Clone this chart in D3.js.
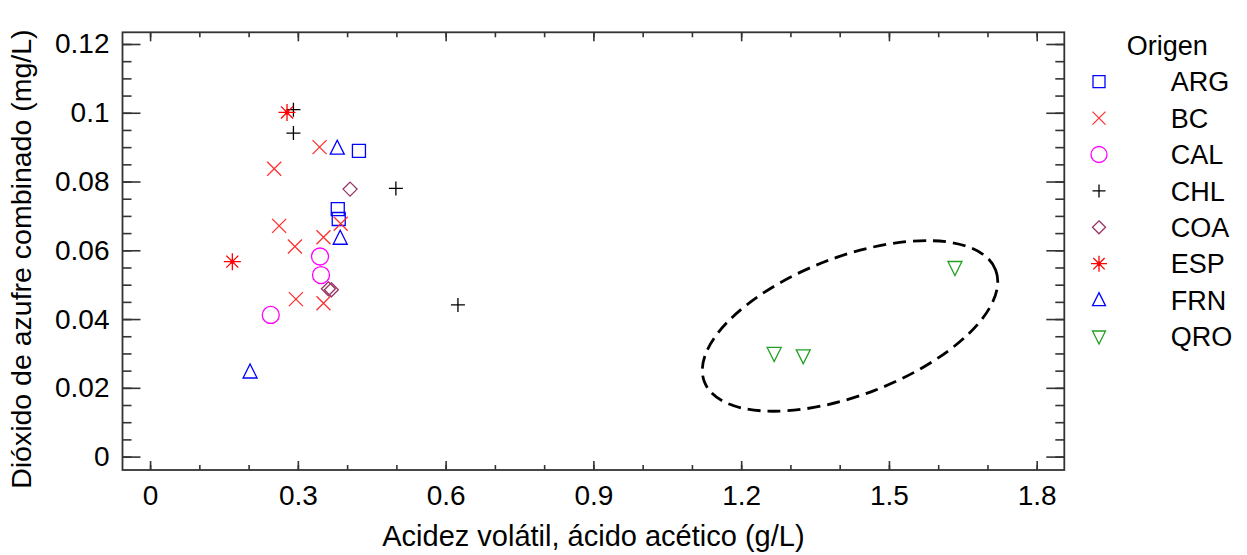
<!DOCTYPE html>
<html>
<head>
<meta charset="utf-8">
<script src="https://cdn.jsdelivr.net/npm/d3@7"></script>
<style>
  body { margin: 0; background: #fff; }
  svg { display: block; }
  text { font-family: "Liberation Sans", Arial, sans-serif; fill: #000; }
</style>
</head>
<body>
<svg id="chart" width="1247" height="555"></svg>
<script>
// Origin groups, in legend order
const origins = ["ARG", "BC", "CAL", "CHL", "COA", "ESP", "FRN", "QRO"];

// [volatile acidity (g/L acetic acid), combined SO2 (mg/L)] per origin
const ARG = [[0.424, 0.0889], [0.381, 0.0720], [0.383, 0.0691]];
const BC  = [[0.344, 0.0900], [0.252, 0.0837], [0.262, 0.0671], [0.294, 0.0611],
             [0.352, 0.0638], [0.387, 0.0677], [0.296, 0.0458], [0.352, 0.0446]];
const CAL = [[0.345, 0.0582], [0.347, 0.0528], [0.245, 0.0412]];
const CHL = [[0.291, 0.1009], [0.291, 0.0941], [0.499, 0.0780], [0.625, 0.0441]];
const COA = [[0.406, 0.0778], [0.362, 0.0488], [0.368, 0.0485]];
const ESP = [[0.278, 0.1001], [0.167, 0.0567]];
const FRN = [[0.380, 0.0897], [0.386, 0.0635], [0.203, 0.0246]];
const QRO = [[1.267, 0.0300], [1.326, 0.0293], [1.634, 0.0550]];

// Axis ticks
const xTicks = [0, 0.3, 0.6, 0.9, 1.2, 1.5, 1.8];
const xMinorTicks = d3.range(0, 19).map(i => i / 10);
const yTicks = [0, 0.02, 0.04, 0.06, 0.08, 0.1, 0.12];
const yMinorTicks = d3.range(0, 25).map(i => i * 0.005);

// Highlighted QRO cluster (center in data units)
const clusterCenter = [1.421, 0.0380];

const seriesData = { ARG, BC, CAL, CHL, COA, ESP, FRN, QRO };
const colors = {
  ARG: "#0000ff", BC: "#ff3030", CAL: "#ff00ff", CHL: "#000000",
  COA: "#993366", ESP: "#ff0000", FRN: "#0000ff", QRO: "#22a022"
};

const svg = d3.select("#chart");
const plotLeft = 122.5, plotRight = 1064.3, plotTop = 32.3, plotBottom = 470;

const x = d3.scaleLinear().domain([-0.056, 1.856]).range([plotLeft, plotRight]);
const y = d3.scaleLinear().domain([-0.0039, 0.1234]).range([plotBottom, plotTop]);

const axisColor = "#333";

function styleAxis(g) {
  g.select(".domain").remove();
  g.selectAll(".tick line").attr("stroke", axisColor).attr("stroke-width", 1.6);
  g.selectAll(".tick text").attr("font-size", 28).attr("fill", "#000")
    .attr("font-family", '"Liberation Sans", Arial, sans-serif');
}

// minor ticks on all four sides
svg.append("g").attr("transform", `translate(0,${plotBottom})`)
  .call(d3.axisBottom(x).tickValues(xMinorTicks).tickSize(-5).tickFormat(""))
  .call(styleAxis);
svg.append("g").attr("transform", `translate(0,${plotTop})`)
  .call(d3.axisTop(x).tickValues(xMinorTicks).tickSize(-5).tickFormat(""))
  .call(styleAxis);
svg.append("g").attr("transform", `translate(${plotLeft},0)`)
  .call(d3.axisLeft(y).tickValues(yMinorTicks).tickSize(-9).tickFormat(""))
  .call(styleAxis);
svg.append("g").attr("transform", `translate(${plotRight},0)`)
  .call(d3.axisRight(y).tickValues(yMinorTicks).tickSize(-9).tickFormat(""))
  .call(styleAxis);

// major ticks with labels
svg.append("g").attr("transform", `translate(0,${plotBottom})`)
  .call(d3.axisBottom(x).tickValues(xTicks).tickSize(-9).tickPadding(15).tickFormat(d3.format("~g")))
  .call(styleAxis);
svg.append("g").attr("transform", `translate(0,${plotTop})`)
  .call(d3.axisTop(x).tickValues(xTicks).tickSize(-9).tickFormat(""))
  .call(styleAxis);
svg.append("g").attr("transform", `translate(${plotLeft},0)`)
  .call(d3.axisLeft(y).tickValues(yTicks).tickSize(-18).tickPadding(13).tickFormat(d3.format("~g")))
  .call(styleAxis);
svg.append("g").attr("transform", `translate(${plotRight},0)`)
  .call(d3.axisRight(y).tickValues(yTicks).tickSize(-18).tickFormat(""))
  .call(styleAxis);

// plot frame
svg.append("rect")
  .attr("x", plotLeft).attr("y", plotTop)
  .attr("width", plotRight - plotLeft).attr("height", plotBottom - plotTop)
  .attr("fill", "none").attr("stroke", axisColor).attr("stroke-width", 1.8);

// axis titles
svg.append("text")
  .attr("x", (plotLeft + plotRight) / 2).attr("y", 546)
  .attr("text-anchor", "middle").attr("font-size", 29)
  .text("Acidez volátil, ácido acético (g/L)");
svg.append("text")
  .attr("transform", `translate(31,${(plotTop + plotBottom) / 2 + 8}) rotate(-90)`)
  .attr("text-anchor", "middle").attr("font-size", 28.5)
  .text("Dióxido de azufre combinado (mg/L)");

// marker shapes
function markerPath(kind, s) {
  const p = d3.path();
  const h = s / 2;
  switch (kind) {
    case "ARG": p.rect(-h + 0.5, -h + 0.5, s - 1, s - 1); break;
    case "BC":
      p.moveTo(-h, -h); p.lineTo(h, h); p.moveTo(-h, h); p.lineTo(h, -h); break;
    case "CAL": p.arc(0, 0, h + 1.5, 0, 2 * Math.PI); break;
    case "CHL":
      p.moveTo(-h, 0); p.lineTo(h, 0); p.moveTo(0, -h); p.lineTo(0, h); break;
    case "COA":
      p.moveTo(0, -h); p.lineTo(h, 0); p.lineTo(0, h); p.lineTo(-h, 0); p.closePath(); break;
    case "ESP": {
      const r = h + 1.5;
      for (let k = 0; k < 4; k++) {
        const a = k * Math.PI / 4;
        p.moveTo(-r * Math.cos(a), -r * Math.sin(a));
        p.lineTo(r * Math.cos(a), r * Math.sin(a));
      }
      break;
    }
    case "FRN":
      p.moveTo(0, -h - 1); p.lineTo(h, h - 1); p.lineTo(-h, h - 1); p.closePath(); break;
    case "QRO":
      p.moveTo(-h, -h + 1); p.lineTo(h, -h + 1); p.lineTo(0, h + 1); p.closePath(); break;
  }
  return p.toString();
}

function drawMarker(g, kind, s) {
  g.append("path")
    .attr("d", markerPath(kind, s))
    .attr("fill", "none")
    .attr("stroke", colors[kind])
    .attr("stroke-width", 1.3);
  if (kind === "ESP") {
    g.append("circle").attr("r", 2.2).attr("fill", colors[kind]);
  }
}

// data points
const plot = svg.append("g");
origins.forEach(o => {
  plot.selectAll(null)
    .data(seriesData[o])
    .enter().append("g")
    .attr("transform", d => `translate(${x(d[0])},${y(d[1])})`)
    .each(function () { drawMarker(d3.select(this), o, 14); });
});

// dashed ellipse around the QRO cluster
const cx = x(clusterCenter[0]), cy = y(clusterCenter[1]);
svg.append("ellipse")
  .attr("cx", cx).attr("cy", cy)
  .attr("rx", 156).attr("ry", 69)
  .attr("transform", `rotate(-21,${cx},${cy})`)
  .attr("fill", "none").attr("stroke", "#000")
  .attr("stroke-width", 2.8).attr("stroke-dasharray", "13,7");

// legend
const legend = svg.append("g");
legend.append("text")
  .attr("x", 1126.7).attr("y", 45).attr("dy", "0.36em")
  .attr("font-size", 27).text("Origen");
origins.forEach((o, i) => {
  const row = legend.append("g").attr("transform", `translate(1099,${81.7 + i * 36.4})`);
  drawMarker(row, o, 13);
  row.append("text").attr("x", 71.7).attr("dy", "0.36em")
    .attr("font-size", 27).text(o);
});
</script>
</body>
</html>
